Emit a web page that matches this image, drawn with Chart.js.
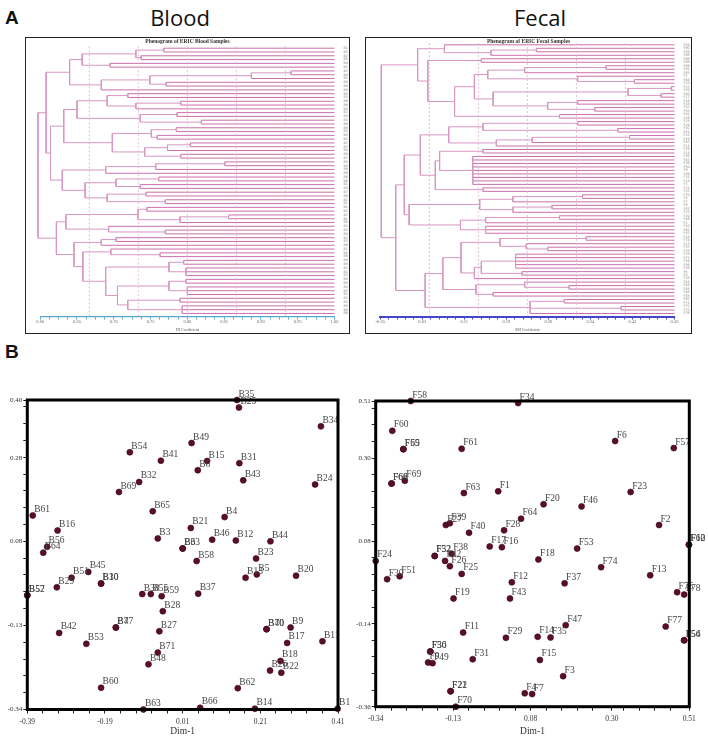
<!DOCTYPE html>
<html>
<head>
<meta charset="utf-8">
<script src="https://cdn.jsdelivr.net/npm/chart.js@4.4.1/dist/chart.umd.min.js"></script>
<style>
  body { margin: 0; width: 708px; height: 737px; background: #fff; position: relative; overflow: hidden; font-family: "Liberation Sans", Arial, sans-serif; }
  .tag { position: absolute; font-weight: bold; font-size: 19px; color: #111; }
  .head { position: absolute; width: 200px; text-align: center; font-size: 22px; line-height: 26px; color: #111; font-family: "Open Sans", sans-serif; }
  .panel { position: absolute; top: 37px; height: 297px; border: 1.5px solid #222; box-sizing: border-box; }
  .panel canvas { position: absolute; left: 0; top: 0; }
  .ptitle { position: absolute; top: 0; width: 100%; text-align: center; font: bold 5.5px "Liberation Serif", serif; color: #333; }
  .sc { position: absolute; top: 385px; }
</style>
</head>
<body>
<div class="tag" style="left:5px;top:7px">A</div>
<div class="head" style="left:80px;top:4px">Blood</div>
<div class="head" style="left:440px;top:4px">Fecal</div>
<div class="tag" style="left:5px;top:341px">B</div>

<div class="panel" style="left:25px;width:325px">
  <canvas id="bloodTree" width="322" height="294"></canvas>
  <div class="ptitle">Phenogram of ERIC Blood Samples</div>
</div>
<div class="panel" style="left:365px;width:327px">
  <canvas id="fecalTree" width="324" height="294"></canvas>
  <div class="ptitle">Phenogram of ERIC Fecal Samples</div>
</div>

<canvas id="bloodPca" class="sc" style="left:0" width="352" height="352"></canvas>
<canvas id="fecalPca" class="sc" style="left:352px" width="356" height="352"></canvas>

<script>
Chart.defaults.font.family = '"Liberation Serif", serif';

// a tree node is [similarity, child, child, ...]; L is a leaf
const L = null;

const bloodTree = [0.597,
  [0.608,
    [0.640,
      [0.657, [0.730, [0.768, L, L], [0.737, L, L]], [0.695, L, L]],
      [0.683, [0.749, [0.887, [0.941, L, L], L], [0.771, L, L]], L]],
    [0.614,
      [0.632,
        [0.650, [0.691, [0.719, L, L], [0.730, [0.791, L, L], L]], [0.736, [0.786, L, L], [0.819, L, L]]],
        [0.698, [0.751, [0.785, L, L], [0.759, L, L]], [0.742, [0.773, [0.804, L, L], L], [0.791, L, L]]]],
      [0.630,
        [0.689, [0.757, [0.851, L, L], L], L],
        [0.661, [0.703, [0.761, L, L], [0.736, L, L]], [0.691, [0.744, L, L], [0.770, L, L]]]]]],
  [0.622,
    [0.635, [0.733, [0.745, L, L], [0.790, [0.856, L, L], L]], [0.693, L, [0.770, L, L]]],
    [0.646,
      [0.683, [0.703, L, L], L],
      [0.658,
        [0.696, L, [0.763, L, L]],
        [0.689,
          [0.775, [0.795, L, L], [0.798, L, L, L]],
          [0.705,
            [0.775, [0.798, L, L], [0.800, L, L, L]],
            [0.719, [0.790, L, L], [0.793, L, L, L]]]]]]]];

const fecalTree = [-0.048,
  [0.020,
    [0.070, L, [0.157, [0.242, L, L], L]],
    [0.039, [0.139, L, L],
      [0.089,
        [0.126,
          [0.151, [0.220, [0.372, L, L], L], [0.319, L, [0.425, L, L]]],
          [0.161, [0.413, [0.494, L, L], [0.475, L, L]], [0.263, [0.319, L, L], [0.351, L, L]]]],
        [0.285, L, L]]]],
  [-0.021,
    [-0.005,
      [0.025,
        [0.078, [0.142, [0.319, L, L], [0.394, L, L]], [0.167, [0.234, [0.416, L, L], L], L]],
        [0.053, [0.061, [0.142, L, L], [0.123, L, L, L, L, L, L, L, L, L]], [0.142, L, L]]],
      [0.004,
        [0.136, [0.198, [0.328, L, L], L], [0.198, [0.271, L, L], L]],
        [0.100, [0.147, [0.285, L, L], L], [0.147, L, L, L]]]],
    [0.034,
      [0.067,
        [0.101, [0.174, [0.335, L, L], [0.223, L, [0.263, L, L]]],
          [0.126, [0.139, [0.203, L, L, L, L, L], [0.215, L, L]], L]],
        [0.129, [0.220, L, [0.303, L, L]], [0.161, L, L]]],
      [0.230, [0.294, L, L], [0.400, L, L], L]]]];

const bloodLeaves = ["B1","B35","B2","B55","B4","B12","B31","B43","B15","B49","B8","B41","B54","B32","B69","B65","B3","B21",
  "B46","B33","B6","B58","B37","B59","B28","B27","B71","B48","B47","B7","B53","B42","B60","B63","B66","B62","B14","B40",
  "B70","B9","B17","B11","B18","B26","B22","B13","B5","B20","B23","B44","B24","B34","B61","B16","B56","B64","B45","B51",
  "B29","B10","B30","B52","B57","B38","B39","B19","B25","B36","B50","B67","B68"];
const fecalLeaves = ["F58","F60","F59","F65","F66","F68","F69","F61","F63","F1","F64","F28","F27","F39","F40","F17","F16",
  "F38","F32","F52","F42","F26","F25","F24","F30","F51","F12","F19","F43","F11","F29","F14","F35","F47","F36","F50","F9",
  "F49","F31","F15","F3","F21","F22","F70","F4","F7","F6","F57","F23","F20","F46","F2","F10","F62","F53","F18","F74","F13",
  "F37","F75","F78","F77","F54","F56","F34","F5","F8","F33","F41","F44","F45","F48","F55","F67","F71","F72","F73","F76"];

const bloodTreeTicks = [0.60, 0.65, 0.70, 0.75, 0.80, 0.85, 0.90, 0.95, 1.00];
const bloodTreeTickLabels = ["0.60", "0.65", "0.70", "0.75", "0.80", "0.85", "0.90", "0.95", "1.00"];
const fecalTreeTicks = [-0.05, 0.0286, 0.1071, 0.1857, 0.2643, 0.3429, 0.4214, 0.50];
const fecalTreeTickLabels = ["-0.05", "0.03", "0.11", "0.19", "0.26", "0.34", "0.42", "0.50"];

// ---- PCoA scatter data ----
const bloodLabels = ["B54","B41","B32","B69","B65","B3","B61","B16","B56","B64","B45","B51","B10","B30","B29","B52","B57",
  "B38","B55","B59","B37","B28","B27","B71","B48","B7","B47","B42","B53","B60","B63","B66","B62","B14","B1","B40","B70",
  "B9","B17","B11","B18","B26","B22","B13","B5","B20","B34","B49","B15","B8","B31","B43","B24","B4","B21","B46","B12",
  "B44","B33","B6","B58","B23","B35","B25"];
const bloodX = [-0.126,-0.046,-0.102,-0.154,-0.067,-0.054,-0.376,-0.312,-0.339,-0.349,-0.233,-0.276,-0.200,-0.200,-0.314,
  -0.390,-0.390,-0.094,-0.072,-0.044,0.050,-0.041,-0.050,-0.054,-0.078,-0.162,-0.162,-0.308,-0.238,-0.200,-0.091,0.055,
  0.152,0.196,0.409,0.226,0.226,0.288,0.279,0.370,0.262,0.235,0.264,0.172,0.201,0.302,0.366,0.033,0.073,0.049,0.156,
  0.166,0.351,0.118,0.031,0.086,0.147,0.236,0.010,0.010,0.046,0.199,0.150,0.155];
const bloodY = [0.275,0.255,0.204,0.180,0.134,0.069,0.124,0.088,0.049,0.035,-0.011,-0.025,-0.039,-0.039,-0.048,-0.067,
  -0.067,-0.064,-0.064,-0.069,-0.063,-0.105,-0.153,-0.204,-0.232,-0.144,-0.144,-0.157,-0.183,-0.288,-0.340,-0.336,-0.289,
  -0.338,-0.338,-0.148,-0.148,-0.144,-0.181,-0.177,-0.224,-0.247,-0.252,-0.025,-0.017,-0.020,0.337,0.297,0.254,0.232,
  0.249,0.208,0.198,0.120,0.094,0.066,0.064,0.062,0.045,0.045,0.015,0.021,0.400,0.382];

const fecalLabels = ["F58","F60","F59","F65","F66","F68","F69","F61","F63","F1","F64","F28","F27","F39","F40","F17","F16",
  "F38","F32","F52","F42","F26","F25","F24","F30","F51","F12","F6","F57","F23","F20","F46","F2","F10","F62","F53","F18",
  "F74","F13","F37","F75","F78","F19","F43","F47","F77","F54","F56","F11","F29","F14","F35","F36","F50","F9","F49","F31",
  "F15","F3","F21","F22","F70","F4","F7","F34"];
const fecalX = [-0.245,-0.295,-0.265,-0.265,-0.297,-0.297,-0.261,-0.107,-0.101,-0.008,0.054,0.008,-0.150,-0.139,-0.087,
  -0.031,0.002,-0.134,-0.180,-0.180,-0.152,-0.139,-0.107,-0.340,-0.309,-0.275,0.029,0.309,0.468,0.351,0.115,0.218,0.428,
  0.509,0.509,0.206,0.101,0.271,0.404,0.172,0.477,0.496,-0.129,0.024,0.175,0.446,0.496,0.496,-0.103,0.013,0.099,0.134,
  -0.192,-0.192,-0.198,-0.186,-0.077,0.105,0.168,-0.137,-0.137,-0.123,0.064,0.084,0.046];
const fecalY = [0.510,0.425,0.373,0.373,0.275,0.275,0.283,0.374,0.248,0.253,0.175,0.142,0.157,0.162,0.135,0.096,0.094,
  0.075,0.069,0.069,0.055,0.040,0.018,0.055,0.003,0.011,-0.006,0.396,0.376,0.251,0.216,0.210,0.157,0.101,0.101,0.090,
  0.059,0.037,0.014,-0.009,-0.034,-0.041,-0.052,-0.052,-0.128,-0.132,-0.171,-0.171,-0.149,-0.164,-0.161,-0.163,-0.203,
  -0.203,-0.234,-0.236,-0.225,-0.227,-0.273,-0.316,-0.316,-0.360,-0.322,-0.324,0.504];

const bloodXTicks = [-0.39, -0.19, 0.01, 0.21, 0.41];
const bloodXTickLabels = ["-0.39", "-0.19", "0.01", "0.21", "0.41"];
const bloodYTicks = [-0.34, -0.139, 0.062, 0.262, 0.40];
const bloodYTickLabels = ["-0.34", "-0.13", "0.08", "0.28", "0.40"];
const fecalXTicks = [-0.34, -0.13, 0.08, 0.30, 0.51];
const fecalXTickLabels = ["-0.34", "-0.13", "0.08", "0.30", "0.51"];
const fecalYTicks = [-0.36, -0.124, 0.111, 0.347, 0.51];
const fecalYTickLabels = ["-0.36", "-0.14", "0.08", "0.30", "0.51"];

// major ticks plus evenly spaced minor ticks between them
function tickSet(majors, max, parts) {
  const step = (majors[1] - majors[0]) / parts;
  const vals = majors.slice();
  for (let v = majors[0]; v <= max + 1e-9; v += step) {
    if (!majors.some(m => Math.abs(m - v) < step * 0.3)) vals.push(v);
  }
  return vals.sort((a, b) => a - b).map(v => ({ value: v }));
}
function majorLabel(majors, labels) {
  return value => {
    const i = majors.findIndex(m => Math.abs(m - value) < 1e-6);
    return i >= 0 ? labels[i] : "";
  };
}

// turn a nested tree into line segments (NaN points break the line)
function buildDendro(tree, leafEnd) {
  const leafLines = [], nodeLines = [];
  let next = 0;
  function walk(node) {
    if (node === L) return { x: leafEnd, y: next++, leaf: true };
    const h = node[0];
    const kids = node.slice(1).map(walk);
    kids.forEach(k => {
      (k.leaf ? leafLines : nodeLines).push({ x: h, y: k.y }, { x: k.x, y: k.y }, { x: NaN, y: NaN });
    });
    const y0 = kids[0].y, y1 = kids[kids.length - 1].y;
    nodeLines.push({ x: h, y: y0 }, { x: h, y: y1 }, { x: NaN, y: NaN });
    return { x: h, y: (y0 + y1) / 2, leaf: false };
  }
  walk(tree);
  return { leafLines, nodeLines, count: next };
}

function dendroChart(id, tree, leaves, cfg) {
  const d = buildDendro(tree, cfg.max);
  const guides = [];
  for (let k = 1; k < 6; k++) {
    const v = cfg.min + (cfg.max - cfg.min) * k / 6;
    guides.push({ x: v, y: -0.5 }, { x: v, y: cfg.yMax }, { x: NaN, y: NaN });
  }
  new Chart(document.getElementById(id), {
    type: 'scatter',
    data: {
      datasets: [
        { data: guides, showLine: true, borderColor: '#dcaed0', borderWidth: 0.8, borderDash: [2, 2], pointRadius: 0 },
        { data: d.nodeLines, showLine: true, borderColor: '#d797c2', borderWidth: 1, pointRadius: 0, clip: false },
        { data: d.leafLines, showLine: true, borderColor: '#c65ea4', borderWidth: 0.9, pointRadius: 0, clip: false }
      ]
    },
    options: {
      responsive: false,
      animation: false,
      events: [],
      layout: { padding: { left: 14.2, top: cfg.top, right: 0, bottom: 0 } },
      plugins: { legend: { display: false }, tooltip: { enabled: false } },
      scales: {
        x: {
          type: 'linear', min: cfg.min, max: cfg.max,
          afterFit: s => { s.height = 15.5; },
          afterBuildTicks: s => { s.ticks = tickSet(cfg.ticks, cfg.max, cfg.parts); },
          ticks: { autoSkip: false, maxRotation: 0, padding: 0, color: '#666', font: { size: 4.5 },
                   callback: majorLabel(cfg.ticks, cfg.tickLabels) },
          grid: { drawOnChartArea: false, tickLength: 3, tickColor: cfg.axisColor },
          border: { color: cfg.axisColor, width: cfg.axisWidth },
          title: { display: true, text: cfg.title, color: '#555', font: { size: 4 }, padding: 0 }
        },
        y: {
          type: 'linear', position: 'right', reverse: true, min: cfg.yMin, max: cfg.yMax,
          afterFit: s => { s.width = cfg.labelW; },
          afterBuildTicks: s => { s.ticks = leaves.map((t, i) => ({ value: i })); },
          ticks: { autoSkip: false, padding: 1, color: '#888', font: { size: 3.4, family: 'DejaVu Sans' },
                   callback: v => leaves[v] || '' },
          grid: { display: false },
          border: { display: false }
        }
      }
    }
  });
}

dendroChart('bloodTree', bloodTree, bloodLeaves, {
  min: 0.60, max: 1.00, top: 8, yMin: -0.58, yMax: 70.8, labelW: 13.5,
  ticks: bloodTreeTicks, tickLabels: bloodTreeTickLabels, parts: 4,
  axisColor: '#58a8d0', axisWidth: 1.3, title: 'DI Coefficient'
});
dendroChart('fecalTree', fecalTree, fecalLeaves, {
  min: -0.05, max: 0.50, top: 5, yMin: -0.52, yMax: 77.86, labelW: 15.5,
  ticks: fecalTreeTicks, tickLabels: fecalTreeTickLabels, parts: 5,
  axisColor: '#4646c8', axisWidth: 2, title: 'SM Coefficient'
});

// ---- scatter plots ----
const frameBox = {
  id: 'frameBox',
  afterDraw(chart) {
    const a = chart.chartArea, ctx = chart.ctx;
    ctx.save();
    ctx.strokeStyle = '#000';
    ctx.lineWidth = 3;
    ctx.strokeRect(a.left, a.top, a.right - a.left, a.bottom - a.top);
    ctx.restore();
  }
};
const pointNames = {
  id: 'pointNames',
  afterDatasetsDraw(chart) {
    const ctx = chart.ctx;
    ctx.save();
    ctx.font = '9.5px "Liberation Serif", serif';
    ctx.fillStyle = '#444';
    ctx.textBaseline = 'alphabetic';
    chart.getDatasetMeta(0).data.forEach((el, i) => {
      ctx.fillText(chart.data.datasets[0].data[i].label, el.x + 1.5, el.y - 3.5);
    });
    ctx.restore();
  }
};

function pcaChart(id, labels, xs, ys, cfg) {
  new Chart(document.getElementById(id), {
    type: 'scatter',
    data: {
      datasets: [{
        data: labels.map((t, i) => ({ x: xs[i], y: ys[i], label: t })),
        pointRadius: 3,
        pointBackgroundColor: '#5a0e28',
        pointBorderColor: '#3a0818',
        pointBorderWidth: 0.6,
        clip: false
      }]
    },
    options: {
      responsive: false,
      animation: false,
      events: [],
      layout: { padding: { left: 0, top: cfg.top, right: cfg.right, bottom: 0 } },
      plugins: { legend: { display: false }, tooltip: { enabled: false } },
      scales: {
        x: {
          type: 'linear', min: cfg.xTicks[0], max: cfg.xTicks[cfg.xTicks.length - 1],
          afterFit: s => { s.height = cfg.bottomH; },
          afterBuildTicks: s => { s.ticks = tickSet(cfg.xTicks, s.max, 5); },
          ticks: { autoSkip: false, maxRotation: 0, padding: 4, color: '#333', font: { size: 7.5 },
                   callback: majorLabel(cfg.xTicks, cfg.xLabels) },
          grid: { drawOnChartArea: false, tickLength: 4, tickColor: '#222' },
          border: { display: false },
          title: { display: true, text: 'Dim-1', color: '#333', font: { size: 9.5 }, padding: 0 }
        },
        y: {
          type: 'linear', min: cfg.yTicks[0], max: cfg.yTicks[cfg.yTicks.length - 1],
          afterFit: s => { s.width = cfg.leftW; },
          afterBuildTicks: s => { s.ticks = tickSet(cfg.yTicks, s.max, 5); },
          ticks: { autoSkip: false, padding: 1, color: '#333', font: { size: 7 },
                   callback: majorLabel(cfg.yTicks, cfg.yLabels) },
          grid: { drawOnChartArea: false, tickLength: 4, tickColor: '#222' },
          border: { display: false }
        }
      }
    },
    plugins: [frameBox, pointNames]
  });
}

pcaChart('bloodPca', bloodLabels, bloodX, bloodY, {
  xTicks: bloodXTicks, xLabels: bloodXTickLabels, yTicks: bloodYTicks, yLabels: bloodYTickLabels,
  top: 15, right: 14, leftW: 27.3, bottomH: 27.5
});
pcaChart('fecalPca', fecalLabels, fecalX, fecalY, {
  xTicks: fecalXTicks, xLabels: fecalXTickLabels, yTicks: fecalYTicks, yLabels: fecalYTickLabels,
  top: 16, right: 18.7, leftW: 23.7, bottomH: 30.3
});
</script>
</body>
</html>
